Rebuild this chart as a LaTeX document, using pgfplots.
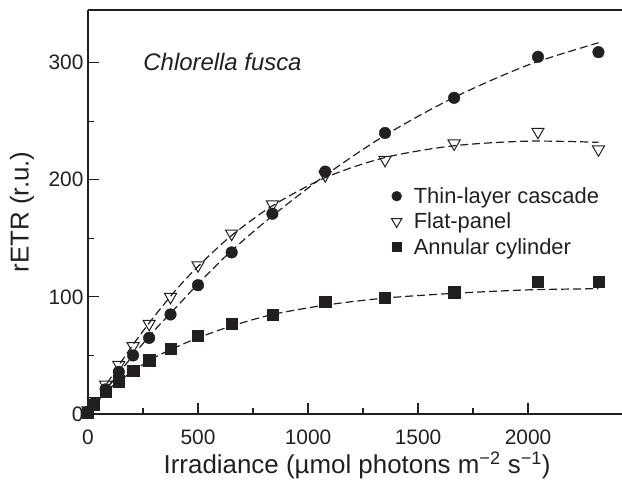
\documentclass[border=0pt]{standalone}
\usepackage{fontspec}
\setmainfont{Liberation Sans}
\usepackage{pgfplots}
\usepackage{pgfplotstable}
\pgfplotsset{compat=1.18}
\definecolor{ink}{HTML}{231F20}

\pgfplotstableread{
x y
0 2
25 9
80 21
140 36
205 50
278 65
375 85
500 110
653 138
838 171
1078 207
1350 240
1664 270
2045 305
2320 309
}\tlc
\pgfplotstableread{
x y
0 3
25 11
80 25
140 42
205 58
278 77
375 100
500 127
653 154
838 179
1078 204
1350 217
1664 231
2045 241
2320 226
}\fp
\pgfplotstableread{
x y
0 1
25 8
80 19
140 28
205 37
278 46
375 56
500 67
653 77
838 85
1078 96
1350 99
1664 104
2045 113
2320 113
}\ac
\pgfplotstableread{
x y
0 0
100 25
200 49
300 71
400 91
500 111
650 139
850 171
1080 204
1350 238
1660 270
2000 298
2320 317
}\tlcfit
\pgfplotstableread{
x y
0 0
100 30
200 58
300 83
400 106
500 126
650 152
840 178
1080 202
1350 219
1660 229
2000 233
2320 232
}\fpfit
\pgfplotstableread{
x y
0 0
50 12
100 22
200 36
300 48
400 57
500 65
650 75
840 85
1080 93
1350 99
1660 103
2000 106
2320 107
}\acfit

\begin{document}
\begin{tikzpicture}
\begin{axis}[name=ax,
  scale only axis, width=534bp, height=404bp,
  xmin=0, xmax=2427, ymin=0, ymax=345,
  axis lines*=left, axis line style={-, line width=1.6bp, ink},
  clip=false,
  xtick={0,500,1000,1500,2000}, ytick={0,100,200,300},
  minor x tick num=1, minor y tick num=1,
  tick align=inside, major tick length=11bp, minor tick length=6bp,
  tick style={line width=1.2bp, ink},
  /pgf/number format/assume math mode=true,
  /pgf/number format/set thousands separator={},
  tick label style={font=\fontsize{21}{25}\selectfont, text=ink},
  xticklabel style={yshift=-12bp},
  yticklabel style={xshift=-1bp},
  xlabel={Irradiance (µmol photons m\textsuperscript{−2} s\textsuperscript{−1})},
  ylabel={rETR (r.u.)},
  label style={font=\fontsize{26}{30}\selectfont, text=ink},
  xlabel style={at={(axis description cs:0.504,0)}, anchor=center, yshift=-51bp},
  ylabel style={at={(axis description cs:0,0.5)}, anchor=center, yshift=66bp},
  legend style={draw=none, fill=none, at={(axis cs:1365,197)}, anchor=north west,
    font=\fontsize{22}{26}\selectfont, text=ink, row sep=4bp,
    /tikz/every odd column/.append style={column sep=10bp}},
  legend cell align=left,
  legend image post style={scale=0.85},
]
\addplot[forget plot, ink, line width=1.2bp, dash pattern=on 8bp off 4bp, smooth] table {\tlcfit};
\addplot[forget plot, ink, line width=1.2bp, dash pattern=on 8bp off 4bp, smooth] table {\fpfit};
\addplot[forget plot, ink, line width=1.2bp, dash pattern=on 8bp off 4bp, smooth] table {\acfit};
\addplot[only marks, mark=*, mark size=5.8bp, draw=ink, fill=ink] table {\tlc};
\addlegendentry{Thin-layer cascade}
\addplot[only marks, mark=triangle, mark size=7bp, draw=ink, mark options={rotate=180, fill=white, line width=1bp}] table {\fp};
\addlegendentry{Flat-panel}
\addplot[only marks, mark=square*, mark size=5.6bp, draw=ink, fill=ink] table {\ac};
\addlegendentry{Annular cylinder}
\node[anchor=base west, font=\fontsize{24}{28}\selectfont\itshape, text=ink] at (axis cs:236,293) {Chlorella fusca};
\end{axis}
\draw[ink, line width=1.6bp] (ax.north west) -- (ax.north east);
\pgfresetboundingbox
\path[use as bounding box] ([xshift=-88bp,yshift=-70bp]ax.south west) rectangle ([yshift=10bp]ax.north east);
\end{tikzpicture}
\end{document}
